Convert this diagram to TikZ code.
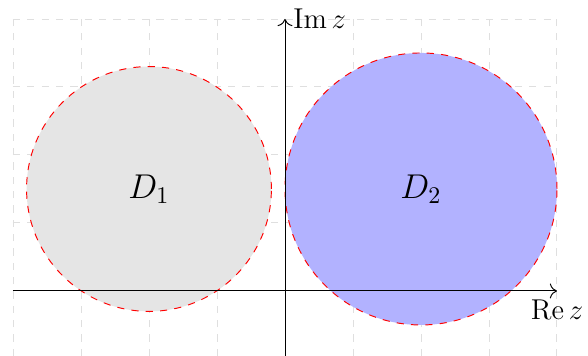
\documentclass[tikz,border=0pt]{standalone}
\usetikzlibrary{arrows.meta}
\begin{document}
\begin{tikzpicture}[
  gridline/.style={gray!25, dashed, line width=0.4pt},
  region/.style={draw=red, dashed, line width=0.4pt},
  axis/.style={-{To[length=3pt]}, line width=0.4pt},
  axlabel/.style={font=\fontsize{13}{15}\selectfont}
]
\useasboundingbox (-4.191,-0.956) rectangle (4.456,4.279);
\draw[gridline] (-4,-0.956) grid (4,4);
\fill[gray!20] (-2,1.5) circle (1.8);
\fill[blue!30] (2,1.5) circle (2);
\draw[region] (-2,1.5) circle (1.8);
\draw[region] (2,1.5) circle (2);
\coordinate (xs) at (-4,0);
\coordinate (xe) at (4,0);
\coordinate (ys) at (0,-0.956);
\coordinate (ye) at (0,4);
\draw[axis] (xs) -- (xe) node[below, axlabel] (re) {$\mathrm{Re}\, z$};
\draw[axis] (ys) -- (ye) node[right, axlabel] (im) {$\mathrm{Im}\, z$};
\node[font=\Large] (d1) at (-2,1.5) {$D_1$};
\node[font=\Large] (d2) at (2,1.5) {$D_2$};
\end{tikzpicture}
\end{document}
